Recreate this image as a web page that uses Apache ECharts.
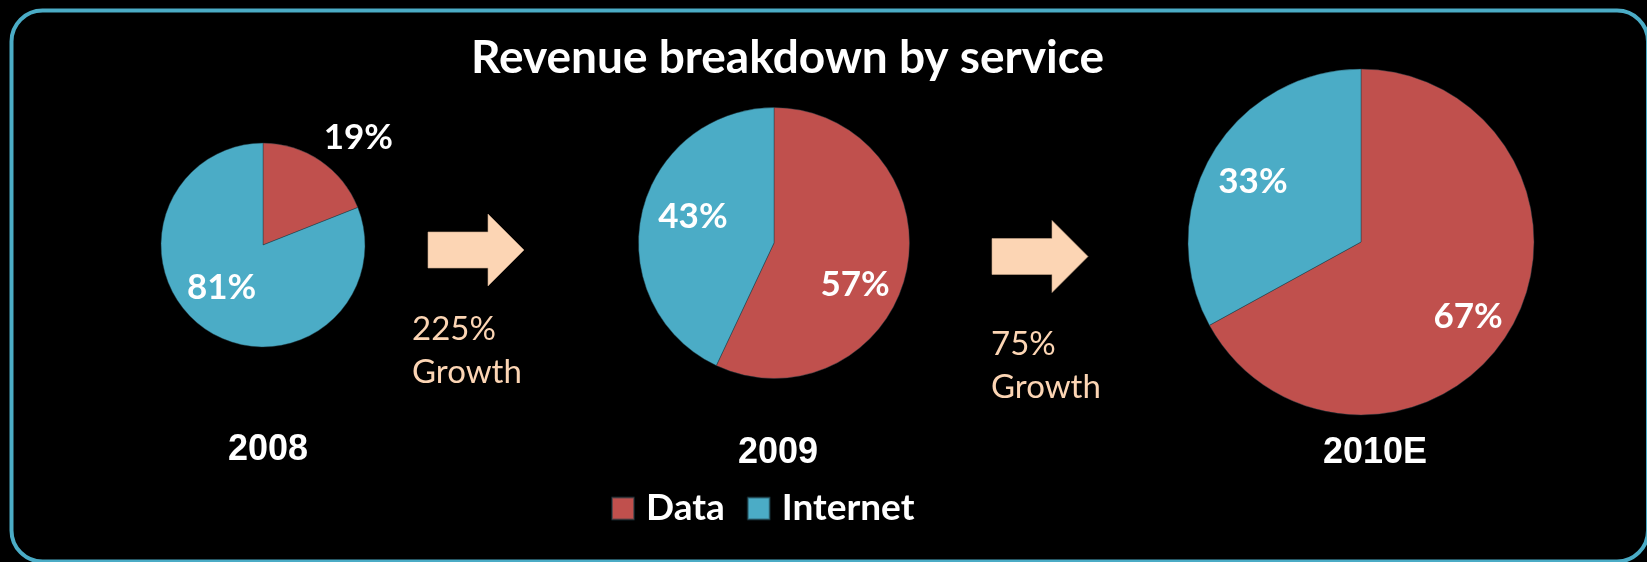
<!DOCTYPE html>
<html>
<head>
<meta charset="utf-8">
<title>Revenue breakdown by service</title>
<script src="https://cdn.jsdelivr.net/npm/echarts@6/dist/echarts.min.js"></script>
<style>
  html, body { margin: 0; padding: 0; background: #000; }
  #chart { width: 1647px; height: 562px; }
</style>
</head>
<body>
<div id="chart"></div>
<script>
// Revenue split per service, in percent of each year's revenue
const categories = ['Data', 'Internet'];
const years = ['2008', '2009', '2010E'];
const share2008 = [19, 81];
const share2009 = [57, 43];
const share2010 = [67, 33];
const growthLabels = ['225%', '75%'];

const COLORS = { Data: '#C0504D', Internet: '#4BACC6' };
const ARROW = '#FCD5B4';

// Pie placement (centre, radius in px) and label nudges for each year
const pieLayout = [
  { center: [263, 245], radius: 102, offsets: [[65, -63], [-11, -2]] },
  { center: [774, 243], radius: 135.5, offsets: [[12, 26], [-12, -11]] },
  { center: [1361, 242], radius: 173, offsets: [[30, 29], [-31, -15]] }
];
const shares = [share2008, share2009, share2010];

const chart = echarts.init(document.getElementById('chart'), null, { renderer: 'canvas' });

const series = shares.map((vals, i) => ({
  type: 'pie',
  name: years[i],
  center: pieLayout[i].center,
  radius: pieLayout[i].radius,
  startAngle: 90,
  clockwise: true,
  silent: true,
  animation: false,
  itemStyle: { borderColor: 'rgba(30,60,70,0.55)', borderWidth: 0.8 },
  label: {
    show: true,
    position: 'inside',
    formatter: '{c}%',
    color: '#fff',
    fontFamily: 'Lato',
    fontWeight: 'bold',
    fontSize: 35
  },
  labelLine: { show: false },
  data: categories.map((c, k) => ({
    name: c,
    value: vals[k],
    itemStyle: { color: COLORS[c] },
    label: { offset: pieLayout[i].offsets[k] }
  }))
}));

// Block arrows between the pies, with growth captions
function arrowShape(x0, yTip, bodyLen, headLen, bodyHalf, headHalf) {
  return [
    [x0, yTip - bodyHalf], [x0 + bodyLen, yTip - bodyHalf],
    [x0 + bodyLen, yTip - headHalf], [x0 + bodyLen + headLen, yTip],
    [x0 + bodyLen, yTip + headHalf], [x0 + bodyLen, yTip + bodyHalf],
    [x0, yTip + bodyHalf]
  ];
}
const arrows = [
  { x: 428, y: 250, textX: 412, textY: 308 },
  { x: 992, y: 256.5, textX: 991, textY: 323 }
];

const graphics = [
  {
    type: 'rect',
    shape: { x: 11.5, y: 10.5, width: 1636.5, height: 551, r: 31 },
    style: { fill: 'none', stroke: '#4BACC6', lineWidth: 4 },
    silent: true
  },
  {
    type: 'text',
    x: 787.5, y: 58,
    style: {
      text: 'Revenue breakdown by service',
      fill: '#fff', font: 'bold 46px Lato',
      textAlign: 'center', textVerticalAlign: 'middle'
    }
  }
];

arrows.forEach((a, i) => {
  graphics.push({
    type: 'polygon',
    shape: { points: arrowShape(a.x, a.y, 60, 36, 18, 36) },
    style: { fill: ARROW, stroke: '#c9a88c', lineWidth: 0.6 },
    silent: true
  });
  graphics.push({
    type: 'text',
    x: a.textX, y: a.textY,
    style: {
      text: growthLabels[i] + '\nGrowth',
      fill: ARROW, font: '33px Lato', lineHeight: 43,
      textAlign: 'left', textVerticalAlign: 'top'
    }
  });
});

const yearPos = [[268, 450], [778, 453], [1375, 453]];
years.forEach((y, i) => {
  graphics.push({
    type: 'text',
    x: yearPos[i][0], y: yearPos[i][1],
    style: {
      text: y, fill: '#fff', font: 'bold 36px "Liberation Sans"',
      textAlign: 'center', textVerticalAlign: 'middle'
    }
  });
});

chart.setOption({
  backgroundColor: '#000',
  animation: false,
  legend: {
    data: categories,
    left: 611,
    top: 490,
    padding: 0,
    icon: 'rect',
    itemWidth: 22,
    itemHeight: 22,
    itemGap: 22,
    selectedMode: false,
    textStyle: {
      color: '#fff', fontFamily: 'Lato', fontWeight: 'bold', fontSize: 37,
      padding: [0, 0, 0, 7]
    }
  },
  series: series,
  graphic: graphics
});
</script>
</body>
</html>
